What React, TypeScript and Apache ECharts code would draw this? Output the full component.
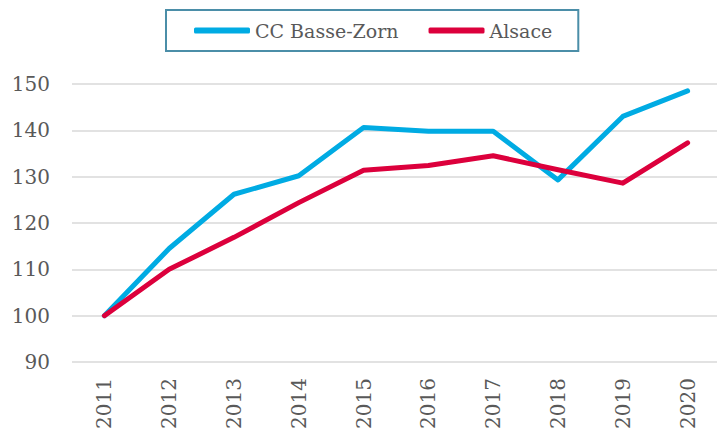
import React, { useEffect, useRef } from "react";
import * as echarts from "echarts";

const years = ["2011", "2012", "2013", "2014", "2015", "2016", "2017", "2018", "2019", "2020"];
const basseZorn = [100, 114.5, 126.2, 130.2, 140.6, 139.8, 139.8, 129.3, 143.0, 148.5];
const alsace = [100, 110, 116.9, 124.4, 131.4, 132.4, 134.5, 131.5, 128.6, 137.3];

const FONT = "DejaVu Serif";
const TEXT = "#595959";

export default function App() {
  const ref = useRef<HTMLDivElement>(null);
  useEffect(() => {
    const chart = echarts.init(ref.current!, null, { renderer: "svg" });
    chart.setOption({
      animation: false,
      legend: {
        top: 10,
        left: 166,
        borderColor: "#4b8ea8",
        borderWidth: 2,
        padding: [11, 26, 11, 28],
        itemGap: 30,
        itemWidth: 56,
        itemHeight: 6,
        icon: "roundRect",
        textStyle: { fontFamily: FONT, fontSize: 19, color: TEXT },
        data: ["CC Basse-Zorn", "Alsace"],
      },
      grid: { left: 72, right: -3, top: 84, bottom: 68, outerBoundsMode: "none" },
      xAxis: {
        type: "category",
        data: years,
        boundaryGap: true,
        axisLine: { show: false },
        axisTick: { show: false },
        axisLabel: { rotate: 90, margin: 16, fontFamily: FONT, fontSize: 20, color: TEXT },
      },
      yAxis: {
        type: "value",
        min: 90,
        max: 150,
        interval: 10,
        axisLine: { show: false },
        axisTick: { show: false },
        axisLabel: { margin: 22, fontFamily: FONT, fontSize: 20, color: TEXT },
        splitLine: { lineStyle: { color: "#d9d9d9", width: 1.5 } },
      },
      series: [
        {
          name: "CC Basse-Zorn",
          type: "line",
          data: basseZorn,
          showSymbol: false,
          symbol: "none",
          itemStyle: { color: "#00abe3" },
          lineStyle: { color: "#00abe3", width: 5, cap: "round", join: "round" },
        },
        {
          name: "Alsace",
          type: "line",
          data: alsace,
          showSymbol: false,
          symbol: "none",
          itemStyle: { color: "#dc003c" },
          lineStyle: { color: "#dc003c", width: 5, cap: "round", join: "round" },
        },
      ],
    });
    return () => chart.dispose();
  }, []);
  return <div ref={ref} style={{ width: 717, height: 430, position: "absolute", left: 0, top: 0 }} />;
}
